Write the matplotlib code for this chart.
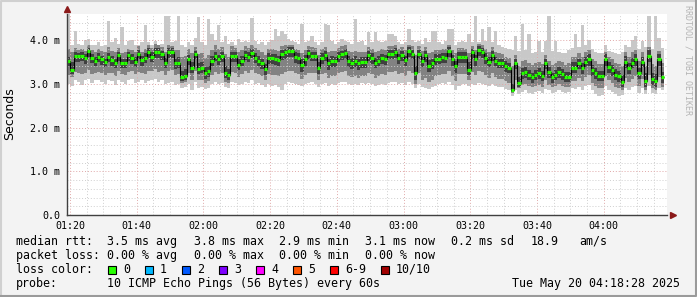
import numpy as np
import matplotlib
matplotlib.use("Agg")
import matplotlib.pyplot as plt
from matplotlib.patches import Rectangle
from matplotlib.lines import Line2D

# ---- data (milliseconds, one value per 60 s step) ----
start_time = "01:19:06"
step_s = 60

median = [
    3.52, 3.31, 3.64, 3.63, 3.65, 3.59, 3.76, 3.60, 3.52, 3.62, 3.56, 3.51, 3.62, 3.55, 3.49, 3.66, 3.48, 3.48, 3.66, 3.59, 3.51, 3.69, 3.54, 3.60, 3.74, 3.62, 3.74, 3.74, 3.68, 3.49,
    3.74, 3.74, 3.47, 3.49, 3.15, 3.19, 3.56, 3.37, 3.68, 3.34, 3.37, 3.24, 3.29, 3.53, 3.65, 3.56, 3.63, 3.25, 3.20, 3.63, 3.63, 3.44, 3.53, 3.66, 3.62, 3.71, 3.60, 3.53, 3.47, 3.33,
    3.60, 3.60, 3.58, 3.54, 3.69, 3.72, 3.76, 3.76, 3.62, 3.60, 3.44, 3.56, 3.70, 3.65, 3.65, 3.37, 3.60, 3.66, 3.47, 3.53, 3.53, 3.64, 3.68, 3.71, 3.53, 3.49, 3.53, 3.47, 3.51, 3.51,
    3.66, 3.60, 3.49, 3.53, 3.59, 3.56, 3.68, 3.68, 3.73, 3.59, 3.66, 3.55, 3.76, 3.68, 3.24, 3.68, 3.53, 3.66, 3.42, 3.47, 3.58, 3.58, 3.61, 3.60, 3.76, 3.56, 3.40, 3.62, 3.62, 3.62,
    3.31, 3.72, 3.56, 3.78, 3.74, 3.60, 3.51, 3.66, 3.52, 3.48, 3.48, 3.41, 3.37, 2.85, 3.47, 3.03, 3.25, 3.27, 3.21, 3.15, 3.21, 3.24, 3.18, 3.47, 3.27, 3.15, 3.21, 3.27, 3.22, 3.16,
    3.16, 3.37, 3.37, 3.47, 3.36, 3.51, 3.56, 3.32, 3.25, 3.18, 3.18, 3.56, 3.39, 3.32, 3.21, 3.18, 3.05, 3.51, 3.36, 3.49, 3.56, 3.25, 3.51, 3.06, 3.65, 3.11, 3.06, 3.56, 3.15]

# smoke: outer envelope (max / min ping)
smoke_top = [
    4.60, 3.90, 4.20, 3.92, 3.88, 4.00, 4.02, 3.90, 3.88, 3.95, 3.86, 3.90, 4.45, 3.95, 4.05, 3.92, 4.30, 3.90, 3.98, 4.00, 3.90, 3.88, 3.95, 4.35, 3.95, 3.88, 3.98, 3.90, 3.92, 4.55,
    4.55, 3.95, 3.98, 4.55, 3.90, 3.85, 3.95, 3.90, 4.05, 4.52, 3.95, 3.90, 4.48, 4.15, 4.00, 4.35, 3.95, 4.10, 3.92, 3.95, 3.90, 4.02, 3.95, 3.98, 3.95, 4.50, 3.98, 3.92, 3.95, 3.90,
    3.95, 4.00, 4.25, 4.10, 4.20, 4.15, 4.02, 3.98, 3.95, 3.92, 4.38, 3.95, 3.98, 4.10, 3.95, 3.90, 3.95, 4.37, 4.35, 3.98, 3.92, 3.95, 4.02, 3.98, 3.95, 3.92, 4.48, 3.95, 3.98, 3.90,
    4.18, 3.95, 4.18, 3.98, 3.95, 3.98, 4.14, 4.14, 4.10, 3.95, 3.92, 3.95, 4.25, 4.00, 3.95, 3.98, 3.92, 4.05, 3.95, 4.20, 4.22, 3.95, 3.92, 3.98, 4.25, 4.25, 3.90, 3.95, 3.98, 3.95,
    4.15, 3.95, 4.55, 3.95, 4.25, 3.98, 4.30, 3.95, 4.20, 3.90, 3.85, 3.82, 3.80, 3.78, 4.10, 3.75, 4.37, 3.78, 4.14, 3.70, 3.72, 3.98, 3.72, 3.98, 4.55, 3.75, 3.98, 3.72, 3.70, 3.70,
    3.78, 3.82, 4.14, 3.85, 4.35, 3.90, 4.00, 3.80, 3.72, 3.70, 3.70, 3.90, 3.75, 3.72, 3.70, 3.68, 3.72, 3.88, 3.85, 4.00, 4.10, 3.80, 3.98, 3.85, 4.55, 3.80, 4.55, 4.05, 3.82]
smoke_bot = [
    3.00, 2.95, 3.10, 3.05, 2.98, 3.08, 3.12, 3.02, 3.08, 3.10, 3.05, 3.00, 3.08, 3.06, 2.98, 3.10, 3.04, 3.00, 3.08, 3.12, 3.02, 3.05, 3.10, 3.02, 3.06, 3.10, 3.12, 3.04, 3.08, 3.00,
    3.02, 3.05, 2.98, 3.00, 2.90, 2.92, 3.00, 2.85, 3.05, 2.90, 2.92, 2.88, 2.90, 3.00, 3.05, 3.00, 3.02, 2.92, 2.90, 3.05, 3.02, 2.98, 3.00, 3.05, 3.02, 3.08, 3.00, 3.02, 2.98, 2.92,
    3.00, 2.95, 2.98, 2.92, 2.85, 3.00, 3.05, 3.02, 3.00, 2.98, 2.95, 3.00, 3.02, 3.05, 3.00, 2.92, 3.00, 3.02, 2.96, 3.00, 2.98, 3.02, 3.05, 3.05, 3.00, 2.98, 3.00, 2.98, 3.02, 3.00,
    3.02, 3.00, 2.95, 2.98, 3.00, 2.98, 3.02, 3.05, 3.05, 3.00, 3.02, 2.98, 3.05, 3.00, 2.90, 3.00, 2.92, 2.90, 2.88, 2.92, 2.95, 3.00, 3.02, 3.00, 3.05, 2.98, 2.85, 2.95, 3.00, 3.00,
    2.95, 3.00, 2.98, 3.02, 3.00, 2.98, 2.95, 3.00, 2.95, 2.92, 2.92, 2.88, 2.85, 2.72, 2.85, 2.78, 2.82, 2.85, 2.80, 2.78, 2.82, 2.84, 2.80, 2.88, 2.85, 2.80, 2.82, 2.85, 2.82, 2.80,
    2.82, 2.90, 2.88, 2.92, 2.85, 2.95, 2.98, 2.85, 2.78, 2.72, 2.75, 2.95, 2.85, 2.82, 2.78, 2.72, 2.75, 2.90, 2.85, 2.92, 2.95, 2.80, 2.90, 2.78, 2.95, 2.80, 2.78, 2.90, 2.85]

# smoke: middle band
smoke_hi2 = [
    3.80, 3.72, 3.82, 3.78, 3.80, 3.76, 3.88, 3.78, 3.74, 3.80, 3.75, 3.72, 3.85, 3.76, 3.74, 3.82, 3.70, 3.72, 3.80, 3.78, 3.74, 3.86, 3.74, 3.80, 3.90, 3.82, 3.92, 3.88, 3.84, 3.74,
    3.88, 3.86, 3.78, 3.78, 3.62, 3.65, 3.80, 3.70, 3.85, 3.68, 3.70, 3.60, 3.66, 3.78, 3.88, 3.80, 3.85, 3.68, 3.62, 3.86, 3.82, 3.72, 3.78, 3.86, 3.82, 3.90, 3.82, 3.78, 3.74, 3.66,
    3.80, 3.80, 3.78, 3.76, 3.86, 3.88, 3.90, 3.90, 3.80, 3.78, 3.70, 3.78, 3.86, 3.84, 3.82, 3.66, 3.80, 3.84, 3.72, 3.76, 3.76, 3.82, 3.86, 3.88, 3.76, 3.72, 3.76, 3.72, 3.74, 3.74,
    3.84, 3.80, 3.74, 3.76, 3.80, 3.78, 3.86, 3.86, 3.88, 3.80, 3.84, 3.78, 3.90, 3.86, 3.66, 3.86, 3.76, 3.84, 3.70, 3.72, 3.78, 3.78, 3.80, 3.80, 3.90, 3.78, 3.70, 3.82, 3.82, 3.80,
    3.70, 3.86, 3.78, 3.92, 3.88, 3.80, 3.74, 3.84, 3.74, 3.70, 3.68, 3.62, 3.60, 3.40, 3.66, 3.40, 3.52, 3.54, 3.48, 3.44, 3.48, 3.50, 3.46, 3.66, 3.52, 3.44, 3.48, 3.52, 3.50, 3.44,
    3.48, 3.62, 3.62, 3.70, 3.62, 3.74, 3.78, 3.58, 3.52, 3.46, 3.46, 3.74, 3.62, 3.56, 3.48, 3.46, 3.40, 3.72, 3.62, 3.72, 3.78, 3.52, 3.74, 3.40, 3.84, 3.46, 3.42, 3.76, 3.48]
smoke_lo2 = [
    3.20, 3.15, 3.28, 3.25, 3.22, 3.26, 3.32, 3.22, 3.24, 3.28, 3.25, 3.20, 3.26, 3.24, 3.18, 3.30, 3.22, 3.20, 3.28, 3.30, 3.22, 3.28, 3.26, 3.22, 3.30, 3.30, 3.34, 3.28, 3.30, 3.20,
    3.30, 3.32, 3.20, 3.22, 3.02, 3.05, 3.25, 3.10, 3.30, 3.08, 3.10, 3.02, 3.06, 3.20, 3.28, 3.22, 3.26, 3.05, 3.02, 3.28, 3.26, 3.16, 3.22, 3.30, 3.26, 3.32, 3.24, 3.22, 3.18, 3.10,
    3.22, 3.20, 3.20, 3.18, 3.22, 3.28, 3.30, 3.30, 3.24, 3.22, 3.12, 3.20, 3.26, 3.26, 3.24, 3.08, 3.22, 3.26, 3.14, 3.18, 3.18, 3.24, 3.28, 3.30, 3.18, 3.16, 3.18, 3.14, 3.18, 3.18,
    3.26, 3.22, 3.14, 3.18, 3.22, 3.20, 3.28, 3.28, 3.30, 3.22, 3.26, 3.18, 3.30, 3.26, 3.00, 3.26, 3.10, 3.14, 3.04, 3.08, 3.18, 3.20, 3.22, 3.22, 3.30, 3.18, 3.06, 3.22, 3.22, 3.22,
    3.10, 3.28, 3.20, 3.30, 3.28, 3.20, 3.14, 3.24, 3.16, 3.12, 3.12, 3.06, 3.02, 2.80, 3.08, 2.90, 2.98, 3.00, 2.95, 2.92, 2.96, 2.98, 2.94, 3.08, 2.98, 2.92, 2.96, 3.00, 2.96, 2.92,
    2.92, 3.06, 3.06, 3.14, 3.06, 3.16, 3.20, 3.02, 2.96, 2.90, 2.90, 3.18, 3.08, 3.02, 2.94, 2.90, 2.85, 3.14, 3.04, 3.12, 3.18, 2.96, 3.12, 2.86, 3.20, 2.90, 2.86, 3.16, 2.92]

# smoke: inner (dark) band
smoke_hi3 = [
    3.62, 3.50, 3.72, 3.70, 3.72, 3.68, 3.82, 3.68, 3.62, 3.70, 3.64, 3.60, 3.70, 3.64, 3.58, 3.74, 3.58, 3.58, 3.74, 3.68, 3.62, 3.78, 3.64, 3.70, 3.82, 3.72, 3.82, 3.82, 3.76, 3.60,
    3.82, 3.82, 3.60, 3.62, 3.30, 3.34, 3.66, 3.50, 3.76, 3.48, 3.50, 3.38, 3.42, 3.64, 3.74, 3.66, 3.72, 3.40, 3.34, 3.72, 3.72, 3.56, 3.64, 3.76, 3.72, 3.80, 3.70, 3.64, 3.58, 3.46,
    3.70, 3.68, 3.68, 3.64, 3.78, 3.80, 3.84, 3.84, 3.72, 3.70, 3.56, 3.66, 3.78, 3.74, 3.74, 3.50, 3.70, 3.76, 3.58, 3.64, 3.62, 3.72, 3.76, 3.80, 3.64, 3.60, 3.64, 3.58, 3.62, 3.62,
    3.76, 3.70, 3.60, 3.64, 3.68, 3.66, 3.78, 3.78, 3.82, 3.68, 3.76, 3.64, 3.84, 3.78, 3.40, 3.78, 3.62, 3.76, 3.54, 3.58, 3.68, 3.68, 3.70, 3.70, 3.84, 3.66, 3.52, 3.72, 3.72, 3.72,
    3.50, 3.80, 3.66, 3.86, 3.82, 3.70, 3.62, 3.76, 3.62, 3.58, 3.58, 3.52, 3.48, 3.00, 3.56, 3.16, 3.36, 3.38, 3.32, 3.26, 3.32, 3.36, 3.30, 3.56, 3.38, 3.26, 3.32, 3.38, 3.34, 3.28,
    3.28, 3.50, 3.50, 3.58, 3.48, 3.62, 3.68, 3.44, 3.36, 3.30, 3.30, 3.68, 3.50, 3.44, 3.34, 3.30, 3.20, 3.64, 3.48, 3.60, 3.68, 3.36, 3.62, 3.24, 3.78, 3.26, 3.22, 3.68, 3.28]
smoke_lo3 = [
    3.40, 3.22, 3.50, 3.50, 3.52, 3.46, 3.62, 3.48, 3.40, 3.50, 3.44, 3.38, 3.50, 3.42, 3.36, 3.52, 3.36, 3.36, 3.52, 3.46, 3.38, 3.56, 3.42, 3.48, 3.60, 3.50, 3.60, 3.60, 3.54, 3.36,
    3.60, 3.60, 3.34, 3.36, 3.06, 3.08, 3.44, 3.24, 3.56, 3.22, 3.24, 3.12, 3.16, 3.40, 3.52, 3.44, 3.50, 3.14, 3.10, 3.50, 3.50, 3.32, 3.40, 3.54, 3.50, 3.60, 3.48, 3.40, 3.34, 3.20,
    3.46, 3.46, 3.44, 3.40, 3.54, 3.58, 3.62, 3.62, 3.48, 3.46, 3.28, 3.42, 3.56, 3.52, 3.52, 3.22, 3.46, 3.52, 3.32, 3.38, 3.38, 3.50, 3.54, 3.58, 3.38, 3.34, 3.38, 3.32, 3.36, 3.36,
    3.52, 3.46, 3.36, 3.40, 3.46, 3.44, 3.56, 3.56, 3.60, 3.46, 3.52, 3.42, 3.62, 3.56, 3.10, 3.56, 3.38, 3.50, 3.28, 3.34, 3.44, 3.46, 3.48, 3.48, 3.62, 3.42, 3.26, 3.48, 3.48, 3.48,
    3.20, 3.58, 3.42, 3.64, 3.60, 3.46, 3.38, 3.52, 3.40, 3.36, 3.36, 3.28, 3.24, 2.82, 3.34, 2.92, 3.12, 3.14, 3.08, 3.02, 3.08, 3.12, 3.06, 3.34, 3.14, 3.02, 3.08, 3.14, 3.10, 3.04,
    3.04, 3.24, 3.24, 3.34, 3.22, 3.38, 3.42, 3.18, 3.12, 3.06, 3.06, 3.42, 3.26, 3.18, 3.08, 3.04, 2.92, 3.36, 3.22, 3.36, 3.42, 3.12, 3.38, 2.92, 3.50, 2.98, 2.92, 3.42, 3.02]

y_ticks = [0, 1, 2, 3, 4]
y_tick_labels = ["0.0", "1.0 m", "2.0 m", "3.0 m", "4.0 m"]

legend_rtt = ["median rtt:", "3.5 ms avg", "3.8 ms max", "2.9 ms min", "3.1 ms now", "0.2 ms sd", "18.9", "am/s"]
legend_loss = ["packet loss:", "0.00 % avg", "0.00 % max", "0.00 % min", "0.00 % now"]
loss_labels = ["0", "1", "2", "3", "4", "5", "6-9", "10/10"]
loss_colors = ["#26ff00", "#00b8ff", "#0059ff", "#7e00ff", "#ff00ff", "#ff5500", "#ff0000", "#a10000"]
probe_text = "10 ICMP Echo Pings (56 Bytes) every 60s"
stamp_text = "Tue May 20 04:18:28 2025"

# ---- figure ----
W, H = 697, 297
BG = "#f3f3f3"
MONO = "DejaVu Sans Mono"

fig = plt.figure(figsize=(W / 100, H / 100), dpi=100, facecolor=BG)


def px(x, y):
    return x / W, 1 - y / H


ax = fig.add_axes([67 / W, 1 - 215 / H, 600 / W, 201 / H])
ax.set_facecolor("white")

hh, mm, ss = [int(v) for v in start_time.split(":")]
t0 = hh * 60 + mm + ss / 60.0
n = len(median)
edges = t0 + np.arange(n + 1) * step_s / 60.0

ax.set_xlim(edges[0], edges[0] + 600 / 3.335)
ax.set_ylim(0, 4.6)

# smoke
ax.stairs(smoke_top, edges, baseline=smoke_bot, fill=True, color="#c8c8c8", lw=0, zorder=1)
ax.stairs(smoke_hi2, edges, baseline=smoke_lo2, fill=True, color="#828282", lw=0, zorder=2)
ax.stairs(smoke_hi3, edges, baseline=smoke_lo3, fill=True, color="#404040", lw=0, zorder=3)

# grid
x0, x1 = ax.get_xlim()
first = int(np.ceil(x0 / 5.0)) * 5
for m in range(first, int(x1) + 1, 5):
    major = m % 20 == 0
    ax.axvline(m, color="#e0a8a8" if major else "#cfcfcf", lw=0.7,
               linestyle=(0, (1, 2)), zorder=4)
for v in np.arange(0.2, 4.6, 0.2):
    major = abs(v - round(v)) < 1e-6
    ax.axhline(v, color="#e0a8a8" if major else "#cfcfcf", lw=0.7,
               linestyle=(0, (1, 2)), zorder=4)

# median
ax.stairs(median, edges, baseline=None, color="black", lw=0.8, zorder=5)
ax.hlines(median, edges[:-1], edges[1:], color=loss_colors[0], lw=2.3, zorder=6)

# axes styling
for s in ["top", "right"]:
    ax.spines[s].set_visible(False)
for s in ["left", "bottom"]:
    ax.spines[s].set_color("#404040")
    ax.spines[s].set_linewidth(1.0)
    ax.spines[s].set_zorder(7)
ax.plot([1.0 + 6 / 600], [0], marker=">", color="#8b1a1a", ms=4, transform=ax.transAxes, clip_on=False)
ax.plot([0], [1.0 + 5 / 201], marker="^", color="#8b1a1a", ms=4, transform=ax.transAxes, clip_on=False)

xt = list(range(first + (20 - first % 20) % 20, int(x1) + 1, 20))
ax.set_xticks(xt)
ax.set_xticklabels(["%02d:%02d" % (m // 60, m % 60) for m in xt], fontfamily=MONO, fontsize=7.2)
ax.set_yticks(y_ticks)
ax.set_yticklabels(y_tick_labels, fontfamily=MONO, fontsize=7.2)
ax.tick_params(length=0, pad=5)
ax.tick_params(axis="x", pad=4)

fig.text(*px(10, 114), "Seconds", rotation=90, ha="center", va="center", fontsize=9,
         family="DejaVu Sans")
fig.text(*px(688, 60), "RRDTOOL / TOBI OETIKER", rotation=-90, ha="center", va="center",
         fontsize=6, family=MONO, color="#b4b4b4")

# legend
FS = 8.35
cols = [16, 107, 194, 279, 365, 451, 531, 579]
for x, s in zip(cols, legend_rtt):
    fig.text(*px(x, 241.5), s, ha="left", va="center", fontsize=FS, family=MONO)
for x, s in zip(cols, legend_loss):
    fig.text(*px(x, 255.3), s, ha="left", va="center", fontsize=FS, family=MONO)
fig.text(*px(16, 269.3), "loss color:", ha="left", va="center", fontsize=FS, family=MONO)
bx = 108
for lab, col in zip(loss_labels, loss_colors):
    fig.add_artist(Rectangle(px(bx, 273.5), 8 / W, 8 / H, facecolor=col, edgecolor="black",
                             lw=0.8, transform=fig.transFigure))
    fig.text(*px(bx + 15, 269.3), lab, ha="left", va="center", fontsize=FS, family=MONO)
    bx += 30 + 7 * len(lab)
fig.text(*px(16, 283.3), "probe:", ha="left", va="center", fontsize=FS, family=MONO)
fig.text(*px(107, 283.3), probe_text, ha="left", va="center", fontsize=FS, family=MONO)
fig.text(*px(680, 283.3), stamp_text, ha="right", va="center", fontsize=FS, family=MONO)

# frame
fig.add_artist(Line2D([0.5 / W, 0.5 / W, 1 - 0.5 / W], [0, 1 - 0.5 / H, 1 - 0.5 / H],
                      color="#d0d0d0", lw=1.5, transform=fig.transFigure))
fig.add_artist(Line2D([0.5 / W, 1 - 1 / W, 1 - 1 / W], [1 / H, 1 / H, 1 - 0.5 / H],
                      color="#9a9a9a", lw=1.5, transform=fig.transFigure))

fig.savefig("out.png", dpi=100, facecolor=BG)
